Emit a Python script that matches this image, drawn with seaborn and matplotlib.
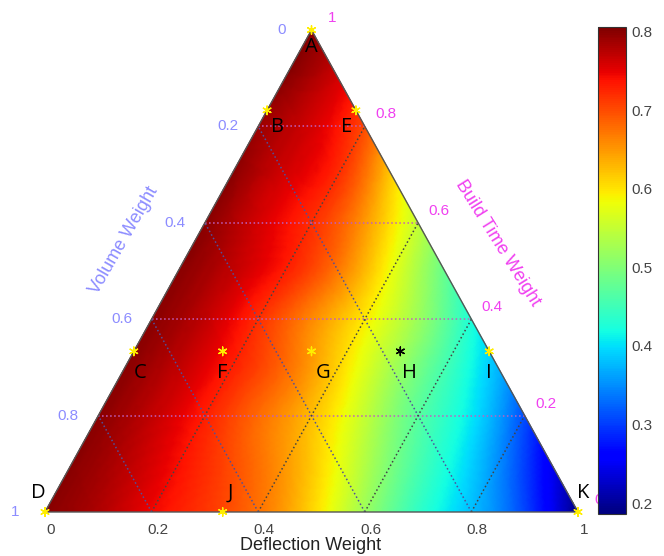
import numpy as np
import matplotlib
matplotlib.use('Agg')
import matplotlib.pyplot as plt
import matplotlib.tri as mtri
import seaborn as sns

# Response values on a 0.1 ternary lattice.
# One list per build-time weight level, deflection weight going 0 -> 1-b.
build_levels = [0.0, 0.1, 0.2, 0.3, 0.4, 0.5, 0.6, 0.7, 0.8, 0.9, 1.0]
row_b00 = [0.80, 0.78, 0.745, 0.715, 0.675, 0.61, 0.52, 0.44, 0.38, 0.305, 0.19]
row_b01 = [0.80, 0.775, 0.74, 0.70, 0.65, 0.58, 0.495, 0.425, 0.35, 0.25]
row_b02 = [0.80, 0.77, 0.73, 0.68, 0.625, 0.55, 0.47, 0.405, 0.31]
row_b03 = [0.80, 0.77, 0.73, 0.68, 0.61, 0.53, 0.455, 0.375]
row_b04 = [0.80, 0.77, 0.72, 0.66, 0.595, 0.52, 0.425]
row_b05 = [0.80, 0.77, 0.73, 0.67, 0.58, 0.48]
row_b06 = [0.80, 0.76, 0.72, 0.65, 0.55]
row_b07 = [0.80, 0.76, 0.72, 0.615]
row_b08 = [0.79, 0.76, 0.70]
row_b09 = [0.80, 0.76]
row_b10 = [0.80]
rows = [row_b00, row_b01, row_b02, row_b03, row_b04, row_b05,
        row_b06, row_b07, row_b08, row_b09, row_b10]

# design points (deflection weight, build time weight)
point_names = ['A', 'B', 'E', 'C', 'F', 'G', 'H', 'I', 'D', 'J', 'K']
point_defl = [0, 0, 1/6, 0, 1/6, 1/3, 1/2, 2/3, 0, 1/3, 1]
point_build = [1, 5/6, 5/6, 1/3, 1/3, 1/3, 1/3, 1/3, 0, 0, 0]
point_group = ['run'] * 6 + ['best'] + ['run'] * 4

tick_vals = [0, 0.2, 0.4, 0.6, 0.8, 1]
tick_text = ['0', '0.2', '0.4', '0.6', '0.8', '1']
cbar_ticks = [0.2, 0.3, 0.4, 0.5, 0.6, 0.7, 0.8]

sns.set_style('white')
plt.rcParams['font.family'] = ['Liberation Sans', 'DejaVu Sans']

# ternary -> cartesian (x along bottom, y = build weight)
def to_xy(d, b):
    return d + b / 2, b

# lattice nodes
node_id = {}
xs, ys, zs = [], [], []
for j, row in enumerate(rows):
    for i, val in enumerate(row):
        node_id[(i, j)] = len(xs)
        x, y = to_xy(i / 10, build_levels[j])
        xs.append(x)
        ys.append(y)
        zs.append(val)

tris = []
for j in range(10):
    for i in range(10 - j):
        tris.append([node_id[(i, j)], node_id[(i + 1, j)], node_id[(i, j + 1)]])
        if i + j <= 8:
            tris.append([node_id[(i + 1, j)], node_id[(i + 1, j + 1)], node_id[(i, j + 1)]])

tri = mtri.Triangulation(xs, ys, tris)
interp = mtri.CubicTriInterpolator(tri, zs, kind='min_E')
refiner = mtri.UniformTriRefiner(tri)
tri_f, z_f = refiner.refine_field(zs, interp, subdiv=4)

fig = plt.figure(figsize=(6.64, 5.56), dpi=100)
ax = fig.add_axes([45 / 664, 44 / 556, 533 / 664, 482 / 556])
ax.set_xlim(0, 1)
ax.set_ylim(0, 1)
ax.axis('off')

tpc = ax.tripcolor(tri_f, z_f, cmap='jet', vmin=0.186, vmax=0.806, shading='gouraud')

# dotted grid
for c in [0.2, 0.4, 0.6, 0.8]:
    # constant build weight
    ax.plot([c / 2, 1 - c / 2], [c, c], ls=':', lw=1.1, color='#c060c0')
    # constant volume weight (parallel to right edge)
    ax.plot([1 - c, (1 - c) / 2], [0, 1 - c], ls=':', lw=1.1, color='#50509a')
    # constant deflection weight (parallel to left edge)
    ax.plot([c, c + (1 - c) / 2], [0, 1 - c], ls=':', lw=1.1, color='#444444')

# outline
ax.plot([0, 1, 0.5, 0], [0, 0, 1, 0], color='#555555', lw=1.0, clip_on=False)

# design points
px, py = to_xy(np.array(point_defl), np.array(point_build))
sns.scatterplot(x=px, y=py, hue=point_group, palette={'run': '#ffee00', 'best': 'black'},
                marker=(6, 2, 0), s=38, linewidth=1.0, legend=False, ax=ax, clip_on=False, zorder=5)

label_offsets = {'A': (0, -17), 'B': (10, -17), 'E': (-9, -17), 'C': (6, -22),
                 'F': (0, -22), 'G': (12, -22), 'H': (9, -22), 'I': (0, -22),
                 'D': (-7, 19), 'J': (8, 19), 'K': (5, 19)}
for name, x, y in zip(point_names, px, py):
    ax.annotate(name, (x, y), xytext=label_offsets[name], textcoords='offset pixels',
                ha='center', va='center', fontsize=14.5, family=['Open Sans', 'DejaVu Sans'],
                color='black', zorder=6)

# tick labels on the three sides
blue = '#8c8cff'
pink = '#f040f0'
for v, t in zip(tick_vals, tick_text):
    # deflection along bottom
    ax.annotate(t, (v, 0), xytext=(6, -18), textcoords='offset pixels', ha='center',
                va='center', fontsize=11, color='#444444')
    # volume along left edge (volume = 1 - build)
    x, y = to_xy(0, 1 - v)
    ax.annotate(t, (x, y), xytext=(-30, 0), textcoords='offset pixels', ha='center',
                va='center', fontsize=11, color=blue)
    # build time along right edge
    x, y = to_xy(1 - v, v)
    ax.annotate(t, (x, y), xytext=(21, 12), textcoords='offset pixels', ha='center',
                va='center', fontsize=11, color=pink)

fig.text(311 / 664, 1 - 545 / 556, 'Deflection Weight', ha='center', va='center',
         fontsize=13, color='#222222')
fig.text(124 / 664, 1 - 240 / 556, 'Volume Weight', ha='center', va='center',
         fontsize=13, color=blue, rotation=60)
fig.text(498 / 664, 1 - 243 / 556, 'Build Time Weight', ha='center', va='center',
         fontsize=13, color=pink, rotation=-58)

# colorbar
cax = fig.add_axes([598 / 664, 42 / 556, 28 / 664, 487 / 556])
cb = fig.colorbar(tpc, cax=cax, ticks=cbar_ticks)
cb.ax.set_yticklabels([f'{t:.1f}' for t in cbar_ticks])
cb.outline.set_linewidth(0.8)
cb.outline.set_edgecolor('#333333')
cax.tick_params(direction='in', length=3, width=0.8, labelsize=11,
                labelcolor='#444444', color='#222222', pad=4)

fig.savefig('out.png', dpi=100)
